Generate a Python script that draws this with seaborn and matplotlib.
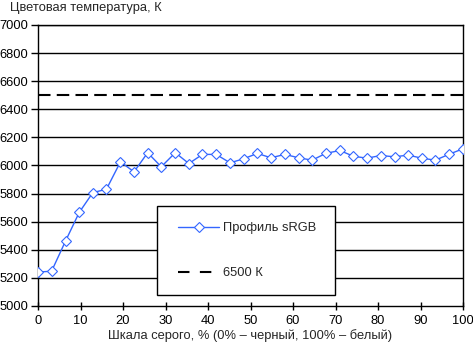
import matplotlib
matplotlib.use("Agg")
import matplotlib.pyplot as plt
import seaborn as sns
import pandas as pd
from matplotlib.lines import Line2D
from matplotlib.legend_handler import HandlerLine2D

gray_pct = [0.0, 3.2, 6.5, 9.7, 12.9, 16.1, 19.4, 22.6, 25.8, 29.0, 32.3, 35.5,
            38.7, 41.9, 45.2, 48.4, 51.6, 54.8, 58.1, 61.3, 64.5, 67.7, 71.0,
            74.2, 77.4, 80.6, 83.9, 87.1, 90.3, 93.5, 96.8, 100.0]
srgb_temp = [5241, 5248, 5464, 5666, 5807, 5831, 6026, 5955, 6091, 5991, 6091,
             6014, 6079, 6079, 6019, 6048, 6086, 6055, 6079, 6055, 6038, 6086,
             6107, 6066, 6052, 6071, 6062, 6074, 6052, 6038, 6081, 6119]
ref_temp = 6500
x_ticks = [0, 10, 20, 30, 40, 50, 60, 70, 80, 90, 100]
y_ticks = [5000, 5200, 5400, 5600, 5800, 6000, 6200, 6400, 6600, 6800, 7000]
series_label = "Профиль sRGB"
ref_label = "6500 К"
title = "Цветовая температура, К"
xlabel = "Шкала серого, % (0% – черный, 100% – белый)"

FS = 9.3
sns.set_style("white")
plt.rcParams['font.family'] = ['Liberation Sans', 'DejaVu Sans']
plt.rcParams['font.size'] = FS

df = pd.DataFrame({"x": gray_pct, "y": srgb_temp})

fig = plt.figure(figsize=(4.73, 3.49), dpi=100)
ax = fig.add_axes([38/473, 1 - 306/349, 425/473, 281/349])

blue = "#3366FF"
sns.lineplot(data=df, x="x", y="y", ax=ax, color=blue, linewidth=1.0,
             marker="D", markersize=4.8, markerfacecolor="white",
             markeredgecolor=blue, markeredgewidth=0.8, zorder=5)
ax.axhline(ref_temp, color="black", linewidth=1.5, dashes=(6, 3), zorder=4)

ax.set_xlim(0, 100)
ax.set_ylim(5000, 7000)
ax.set_xticks(x_ticks)
ax.set_yticks(y_ticks)
ax.set_xlabel(xlabel, fontsize=FS, labelpad=1.5)
ax.set_ylabel("")
for y in y_ticks[1:]:
    ax.axhline(y, color="black", linewidth=1.0, zorder=1)
for s in ax.spines.values():
    s.set_color("black")
    s.set_linewidth(1.0)
ax.tick_params(axis="x", direction="inout", length=6, width=1, colors="black",
               pad=3.5, labelsize=FS)
ax.tick_params(axis="y", direction="out", length=5, width=1, colors="black",
               pad=2, labelsize=FS)
ax.tick_params(bottom=True, left=True)

fig.text(10/473, 1 - 8/349, title, fontsize=FS, va="center", ha="left")

h_series = Line2D([], [], color=blue, linewidth=1.0, marker="D", markersize=4.8,
                  markerfacecolor="white", markeredgecolor=blue,
                  markeredgewidth=0.8)
h_ref = Line2D([], [], color="black", linewidth=1.5, dashes=(5.5, 5.0))
leg = ax.legend([h_series, h_ref], [series_label, ref_label], loc="upper left",
                bbox_to_anchor=(0.279, 0.032, 0.42, 0.324), mode="expand",
                frameon=True, fancybox=False, framealpha=1, edgecolor="black",
                handlelength=3.6, handletextpad=0.3, labelspacing=2.55,
                borderpad=1.25, fontsize=FS, numpoints=1, borderaxespad=0,
                handler_map={h_series: HandlerLine2D(xpad=0.4),
                             h_ref: HandlerLine2D(xpad=0.4)})
leg.get_frame().set_linewidth(1.0)
leg.set_zorder(10)

fig.savefig("out.png", dpi=100)
